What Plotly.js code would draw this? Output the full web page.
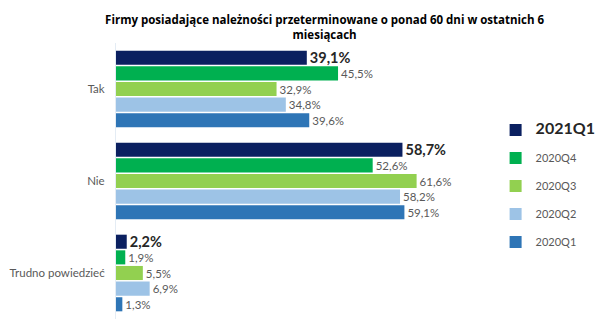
<!DOCTYPE html>
<html>
<head>
<meta charset="utf-8">
<script src="https://cdn.plot.ly/plotly-3.0.1.min.js"></script>
<style>html,body{margin:0;padding:0;background:#fff;}#chart{width:600px;height:327px;}</style>
</head>
<body>
<div id="chart"></div>
<script>
const categories = ['Tak', 'Nie', 'Trudno powiedzieć'];
const seriesNames = ['2021Q1', '2020Q4', '2020Q3', '2020Q2', '2020Q1'];
const v2021Q1 = [39.1, 58.7, 2.2];
const v2020Q4 = [45.5, 52.6, 1.9];
const v2020Q3 = [32.9, 61.6, 5.5];
const v2020Q2 = [34.8, 58.2, 6.9];
const v2020Q1 = [39.6, 59.1, 1.3];
const seriesValues = [v2021Q1, v2020Q4, v2020Q3, v2020Q2, v2020Q1];
const colors = ['#0b2060', '#00b050', '#92d050', '#9dc3e6', '#2e75b6'];

const labelFont = 'Lato, "Open Sans", sans-serif';

const traces = seriesNames.map((name, i) => {
  const main = i === 0;
  return {
    type: 'bar',
    orientation: 'h',
    name: main ? '<span style="font-size:16px;color:#262626"><b>' + name + '</b></span>' : name,
    y: categories,
    x: seriesValues[i],
    marker: {color: colors[i]},
    texttemplate: main ? '<b>%{x:.1f}%</b>' : '%{x:.1f}%',
    textposition: 'outside',
    constraintext: 'none',
    cliponaxis: false,
    outsidetextfont: main ? {family: labelFont, size: 14.5, color: '#262626'} : {family: labelFont, size: 11.5, color: '#595959'},
    legendgroup: 'g' + i,
    hoverinfo: 'skip'
  };
});

const layout = {
  width: 600,
  height: 327,
  margin: {l: 116, r: 118, t: 43, b: 8},
  paper_bgcolor: '#fff',
  plot_bgcolor: '#fff',
  separators: ', ',
  barmode: 'group',
  bargap: 0.15,
  bargroupgap: 0.1,
  showlegend: true,
  title: {
    text: '<b>Firmy posiadające należności przeterminowane o ponad 60 dni w ostatnich 6<br>miesiącach</b>',
    font: {family: '"Open Sans", sans-serif', size: 11.5, color: '#000'},
    x: 0.57, xanchor: 'center', xref: 'paper',
    yref: 'container', y: 0.927, yanchor: 'middle'
  },
  xaxis: {
    range: [0, 75],
    visible: false,
    fixedrange: true
  },
  yaxis: {
    autorange: 'reversed',
    showline: true,
    linecolor: '#e4ecf4',
    linewidth: 1,
    showgrid: false,
    zeroline: false,
    ticks: '',
    ticklabelstandoff: 8,
    tickfont: {family: labelFont, size: 11.5, color: '#595959'}
  },
  legend: {
    xref: 'container', yref: 'container',
    x: 0.826, xanchor: 'left',
    y: 0.647, yanchor: 'top',
    bgcolor: 'rgba(0,0,0,0)',
    tracegroupgap: 9,
    itemwidth: 30,
    font: {family: labelFont, size: 11, color: '#595959'}
  }
};

Plotly.newPlot('chart', traces, layout, {displayModeBar: false, staticPlot: true});
</script>
</body>
</html>
